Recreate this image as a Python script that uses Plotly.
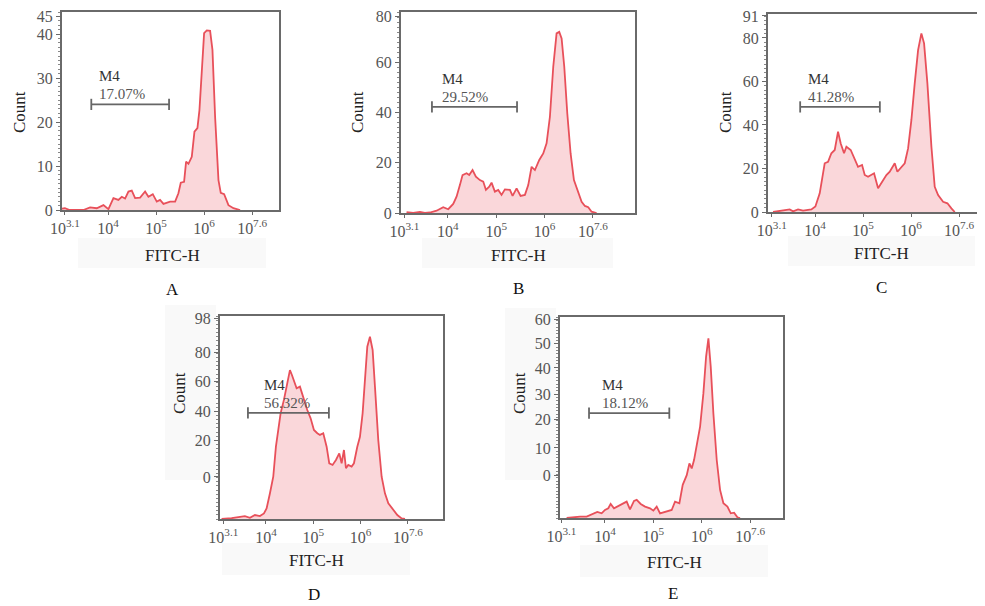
import plotly.graph_objects as go

W, H = 985, 606
PAGE_OFFSET = 8  # default body margin of the html page

# ---------------- data: log10(FITC-H) and Count ----------------
a_log = [3.035, 3.10, 3.20, 3.486, 3.625, 3.764, 3.903, 4.007, 4.111, 4.215, 4.285, 4.354, 4.424, 4.493,
         4.563, 4.667, 4.771, 4.840, 4.931, 5.014, 5.083, 5.153, 5.292, 5.396, 5.465, 5.514, 5.583, 5.625,
         5.674, 5.743, 5.799, 5.861, 5.903, 5.951, 6.000, 6.056, 6.125, 6.174, 6.229, 6.299, 6.347, 6.417,
         6.507, 6.611, 6.750]
a_cnt = [0.3, 0.4, 0.0, 0.0, 0.6, 0.4, 1.1, 0.2, 2.7, 2.3, 3.0, 2.6, 4.2, 4.4,
         2.7, 2.8, 4.2, 3.0, 3.6, 1.9, 2.3, 1.4, 1.9, 1.9, 3.8, 6.2, 6.4, 11.0,
         10.5, 12.1, 17.8, 18.6, 22.7, 32.6, 40.2, 40.8, 40.7, 36.4, 21.2, 6.8, 3.9, 3.6,
         1.1, 0.4, 0.0]

b_log = [3.145, 3.283, 3.421, 3.524, 3.628, 3.766, 3.903, 4.007, 4.110, 4.179, 4.248, 4.303, 4.386, 4.441,
         4.510, 4.579, 4.662, 4.731, 4.786, 4.855, 4.903, 4.972, 5.041, 5.110, 5.179, 5.283, 5.338, 5.421,
         5.503, 5.593, 5.662, 5.731, 5.800, 5.890, 5.972, 6.041, 6.110, 6.179, 6.248, 6.303, 6.352, 6.407,
         6.469, 6.538, 6.607, 6.697, 6.766, 6.834, 6.903, 6.972, 7.076]
b_cnt = [0.3, 0.0, 0.4, 0.0, 0.2, 0.9, 2.3, 1.5, 3.6, 6.5, 11.1, 15.1, 15.8, 15.1,
         17.1, 14.5, 13.1, 12.5, 9.2, 10.5, 12.1, 8.5, 9.2, 7.2, 9.4, 9.2, 6.8, 9.8,
         6.8, 7.2, 11.1, 18.4, 17.1, 21.1, 23.7, 27.7, 38.3, 58.2, 71.5, 72.1, 69.5, 58.2,
         39.7, 23.7, 13.1, 8.5, 4.5, 2.8, 2.3, 0.5, 0.0]

c_log = [3.125, 3.264, 3.472, 3.542, 3.646, 3.750, 3.924, 4.007, 4.097, 4.201, 4.271, 4.340, 4.410, 4.479,
         4.535, 4.604, 4.653, 4.743, 4.826, 4.896, 4.979, 5.035, 5.104, 5.174, 5.229, 5.313, 5.396, 5.486,
         5.556, 5.660, 5.715, 5.799, 5.868, 5.938, 6.007, 6.076, 6.146, 6.215, 6.271, 6.340, 6.424, 6.493,
         6.563, 6.667, 6.757, 6.840, 6.910]
c_cnt = [0.0, 0.6, 1.2, 0.3, 1.2, 0.6, 1.2, 2.5, 8.6, 22.4, 23.1, 27.0, 28.5, 36.9,
         31.5, 27.0, 30.0, 28.5, 23.9, 20.8, 21.6, 17.0, 16.2, 17.0, 17.8, 10.9, 13.9, 17.0,
         18.5, 22.4, 18.5, 20.8, 22.4, 29.2, 42.3, 59.1, 74.4, 82.1, 77.5, 59.1, 30.0, 11.6,
         7.8, 4.7, 4.0, 1.7, 0.0]

d_log = [3.063, 3.275, 3.556, 3.662, 3.768, 3.873, 3.958, 4.014, 4.085, 4.155, 4.211, 4.261, 4.310, 4.380,
         4.451, 4.507, 4.549, 4.592, 4.648, 4.718, 4.803, 4.873, 4.944, 5.014, 5.085, 5.141, 5.211, 5.282,
         5.338, 5.408, 5.479, 5.549, 5.599, 5.648, 5.690, 5.739, 5.810, 5.859, 5.930, 5.986, 6.042, 6.092,
         6.141, 6.197, 6.254, 6.303, 6.373, 6.444, 6.514, 6.585, 6.690, 6.775, 6.866, 6.937]
d_cnt = [0.0, 0.4, 1.4, 0.6, 1.9, 1.4, 2.7, 5.1, 12.4, 20.4, 34.9, 43.0, 51.0, 57.5,
         64.7, 71.9, 69.5, 66.5, 63.1, 63.9, 57.5, 52.6, 48.6, 43.0, 41.4, 40.6, 41.4, 34.9,
         26.9, 26.1, 28.5, 31.7, 26.9, 33.3, 24.5, 26.1, 25.3, 26.9, 34.9, 39.7, 51.0, 68.7,
         83.2, 88.0, 81.6, 63.9, 38.1, 20.4, 12.4, 7.6, 4.3, 1.9, 0.3, 0.0]

e_log = [3.207, 3.345, 3.483, 3.621, 3.759, 3.841, 3.931, 4.000, 4.069, 4.117, 4.186, 4.276, 4.366, 4.448,
         4.517, 4.600, 4.655, 4.738, 4.828, 4.931, 5.000, 5.069, 5.138, 5.241, 5.379, 5.448, 5.538, 5.607,
         5.690, 5.745, 5.793, 5.841, 5.897, 5.966, 6.034, 6.090, 6.138, 6.186, 6.241, 6.310, 6.379, 6.448,
         6.531, 6.600, 6.669, 6.738, 6.793]
e_cnt = [0.0, 0.3, 0.4, 0.4, 1.2, 1.8, 1.4, 2.4, 2.9, 4.2, 2.9, 3.6, 4.4, 4.9,
         2.6, 5.1, 5.4, 4.2, 3.4, 2.9, 2.2, 3.4, 1.4, 1.9, 2.4, 4.9, 4.4, 9.9,
         12.8, 16.3, 14.8, 17.3, 22.3, 27.3, 37.2, 48.2, 53.6, 45.2, 31.2, 17.3, 8.4, 4.4,
         3.4, 1.4, 1.6, 0.2, 0.0]

panel_letters = ["A", "B", "C", "D", "E"]
gate_name = "M4"
gate_pct = ["17.07%", "29.52%", "41.28%", "56.32%", "18.12%"]
gate_start = [3.65, 3.67, 3.69, 3.62, 3.67]   # log10 FITC-H
gate_end = [5.27, 5.43, 5.35, 5.33, 5.33]
gate_count = [24.0, 42.2, 48.3, 51.2, 31.3]

y_max = [45, 80, 91, 98, 60]
y_tickvals = [[0, 10, 20, 30, 40, 44.0],
              [0, 20, 40, 60, 78.3],
              [0, 20, 40, 60, 80, 90.1],
              [20.3, 38.1, 52.1, 66.6, 80.6, 97.0],
              [12.8, 20.9, 29.5, 37.0, 44.8, 52.2, 59.4]]
y_ticktext = [["0", "10", "20", "30", "40", "45"],
              ["0", "20", "40", "60", "80"],
              ["0", "20", "40", "60", "80", "91"],
              ["0", "20", "40", "60", "80", "98"],
              ["0", "10", "20", "30", "40", "50", "60"]]
x_tick_exp = [3.1, 4, 5, 6, 7]
x_ticktext = ["10<sup>3.1</sup>", "10<sup>4</sup>", "10<sup>5</sup>", "10<sup>6</sup>", "10<sup>7.6</sup>"]
x_title = "FITC-H"
y_title = "Count"

series_log = [a_log, b_log, c_log, d_log, e_log]
series_cnt = [a_cnt, b_cnt, c_cnt, d_cnt, e_cnt]

# ---------------- layout geometry (screen pixels) ----------------
boxes = [(62, 279, 12, 210), (401, 635, 12, 213), (768, 985, 14, 212),
         (220, 443, 316, 519), (560, 783, 317, 518)]
x_ranges = [(3.04, 7.56), (3.03, 7.87), (3.02, 7.54), (3.03, 7.74), (3.07, 7.68)]
minor_dt = [1, 2, 2, 2, 1]
label_x = [3.77, 3.83, 3.81, 3.92, 3.90]
count_pos = [(20, 112), (358, 112), (726, 112), (179, 393), (519, 393)]
fitc_pos = [(172, 255), (518, 255), (881, 253), (316, 560), (674, 562)]
letter_pos = [(172, 289), (518, 288), (881, 287), (314, 594), (673, 593)]
fitc_bg = [(78, 266, 238, 268), (422, 613, 238, 268), (788, 975, 236, 266),
           (222, 410, 543, 575), (580, 768, 545, 577)]
count_bg = [None, None, None, (165, 216, 305, 480), (505, 556, 308, 480)]

FONT = "Liberation Serif, Times New Roman, serif"
LINE_RED = "#e8505a"
FILL_PINK = "rgba(244,160,166,0.42)"
AXIS_GREY = "#6a6a6a"
BG_GREY = "#f9f9f9"

fig = go.Figure()
layout = dict(
    width=W, height=H, margin=dict(l=0, r=0, t=0, b=0, autoexpand=False),
    paper_bgcolor="white", plot_bgcolor="white", showlegend=False,
    font=dict(family=FONT, color="#444"),
)
annotations = []
shapes = []


def px2fx(x):
    return min(1.0, max(0.0, (x - PAGE_OFFSET) / W))


def py2fy(y):
    return min(1.0, max(0.0, 1 - (y - PAGE_OFFSET) / H))


for i in range(5):
    sfx = "" if i == 0 else str(i + 1)
    xa, ya = "x" + sfx, "y" + sfx
    l, r, t, b = boxes[i]

    # faint background strips behind axis titles
    x0, x1, y0, y1 = fitc_bg[i]
    shapes.append(dict(type="rect", xref="paper", yref="paper", x0=px2fx(x0), x1=px2fx(x1),
                       y0=py2fy(y1), y1=py2fy(y0), fillcolor=BG_GREY, line=dict(width=0), layer="below"))
    if count_bg[i] is not None:
        x0, x1, y0, y1 = count_bg[i]
        shapes.append(dict(type="rect", xref="paper", yref="paper", x0=px2fx(x0), x1=px2fx(x1),
                           y0=py2fy(y1), y1=py2fy(y0), fillcolor=BG_GREY, line=dict(width=0), layer="below"))

    xs = [10 ** v for v in series_log[i]]
    fig.add_trace(go.Scatter(x=xs, y=series_cnt[i], mode="lines", fill="tozeroy",
                             fillcolor=FILL_PINK, line=dict(color=LINE_RED, width=1.8, shape="linear"),
                             xaxis=xa, yaxis=ya, hoverinfo="skip"))
    # gate bar
    fig.add_trace(go.Scatter(x=[10 ** gate_start[i], 10 ** gate_end[i]], y=[gate_count[i]] * 2,
                             mode="lines+markers", line=dict(color="#666", width=1.8),
                             marker=dict(symbol="line-ns-open", size=8, line=dict(color="#666", width=1.8)),
                             xaxis=xa, yaxis=ya, hoverinfo="skip"))
    annotations.append(dict(x=label_x[i], y=gate_count[i], xref=xa, yref=ya, text=gate_name,
                            showarrow=False, xanchor="left", yanchor="middle", yshift=28,
                            font=dict(size=15, color="#333", family=FONT)))
    annotations.append(dict(x=label_x[i], y=gate_count[i], xref=xa, yref=ya, text=gate_pct[i],
                            showarrow=False, xanchor="left", yanchor="middle", yshift=10,
                            font=dict(size=15, color="#555", family=FONT)))

    layout["xaxis" + sfx] = dict(
        domain=[px2fx(l), px2fx(r)], anchor=ya, type="log", range=list(x_ranges[i]),
        tickvals=[10 ** e for e in x_tick_exp], ticktext=x_ticktext, automargin=False,
        ticklabeloverflow="allow",
        showline=True, linecolor=AXIS_GREY, linewidth=2, mirror=True,
        ticks="outside", ticklen=3, tickcolor=AXIS_GREY, showgrid=False, zeroline=False,
        tickfont=dict(size=16, color="#555", family=FONT),
    )
    layout["yaxis" + sfx] = dict(
        domain=[py2fy(b), py2fy(t)], anchor=xa, range=[0, y_max[i]], automargin=False,
        ticklabeloverflow="allow",
        tickvals=y_tickvals[i], ticktext=y_ticktext[i],
        showline=True, linecolor=AXIS_GREY, linewidth=2, mirror=(i != 2),
        ticks="outside", ticklen=4, tickcolor=AXIS_GREY, showgrid=False, zeroline=False,
        tickfont=dict(size=16, color="#555", family=FONT),
        minor=dict(ticks="outside", ticklen=2, tickcolor="#888", tick0=0, dtick=minor_dt[i], showgrid=False),
    )

    cx, cy = count_pos[i]
    annotations.append(dict(x=px2fx(cx), y=py2fy(cy), xref="paper", yref="paper", text=y_title,
                            textangle=-90, showarrow=False, xanchor="center", yanchor="middle",
                            font=dict(size=17, color="#222", family=FONT)))
    fx, fy = fitc_pos[i]
    annotations.append(dict(x=px2fx(fx), y=py2fy(fy), xref="paper", yref="paper", text=x_title,
                            showarrow=False, xanchor="center", yanchor="middle",
                            font=dict(size=17, color="#222", family=FONT)))
    lx, ly = letter_pos[i]
    annotations.append(dict(x=px2fx(lx), y=py2fy(ly), xref="paper", yref="paper", text=panel_letters[i],
                            showarrow=False, xanchor="center", yanchor="middle",
                            font=dict(size=17, color="#111", family=FONT)))

layout["annotations"] = annotations
layout["shapes"] = shapes
fig.update_layout(**layout)
fig.write_html("out.html")
